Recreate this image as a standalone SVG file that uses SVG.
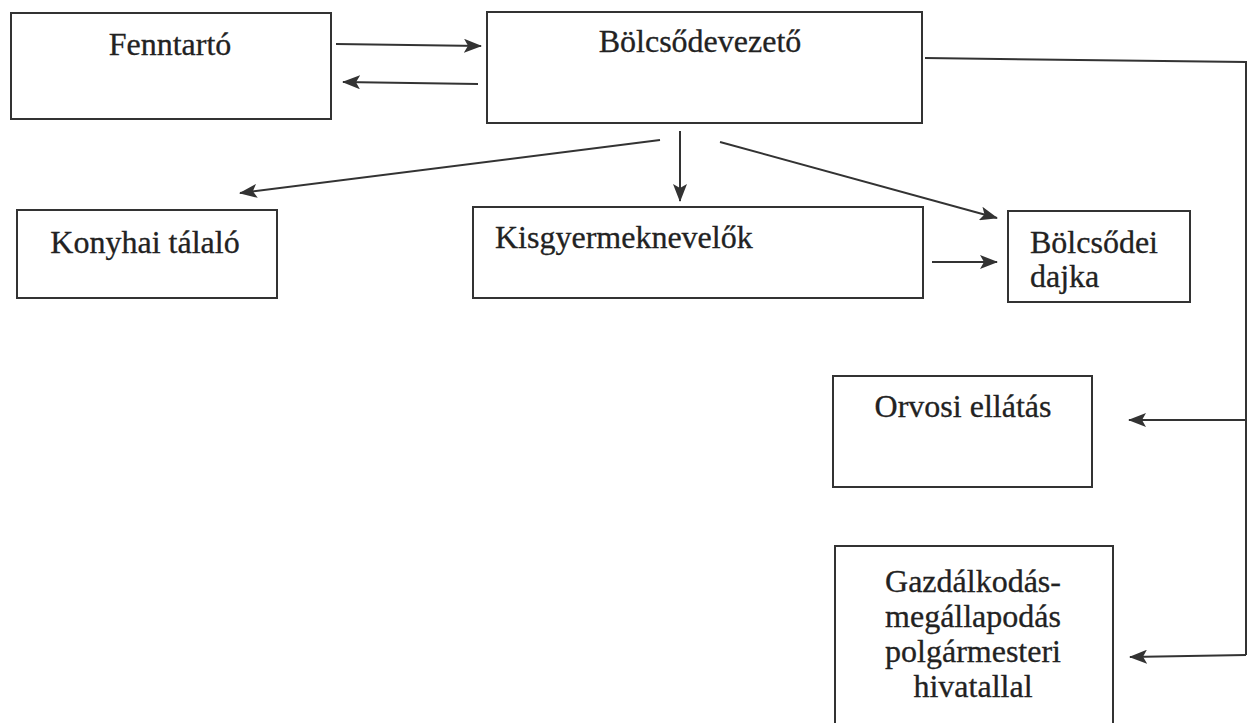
<svg xmlns="http://www.w3.org/2000/svg" width="1248" height="723" viewBox="0 0 1248 723">
<style>
.box{fill:#fff;stroke:#333;stroke-width:2}
.t{font-family:"Liberation Serif","Times New Roman",serif;font-size:32px;fill:#222;stroke:#222;stroke-width:0.3}
.c{text-anchor:middle}
.ln{fill:none;stroke:#333;stroke-width:2}
</style>
<defs>
<marker id="ah" viewBox="0 0 18 14" refX="17" refY="7" markerWidth="18" markerHeight="14" markerUnits="userSpaceOnUse" orient="auto">
<path d="M0,0 L18,7 L0,14 L4,7 Z" fill="#333"/>
</marker>
</defs>
<rect width="1248" height="723" fill="#fff"/>
<g id="fenntarto"><rect class="box" x="11" y="13" width="320" height="106"/><text class="t c" x="170" y="55">Fenntartó</text></g>
<g id="bolcsodevezeto"><rect class="box" x="487" y="12" width="435" height="111"/><text class="t c" x="700" y="52">Bölcsődevezető</text></g>
<g id="konyhai"><rect class="box" x="17" y="210" width="260" height="88"/><text class="t c" x="145" y="253">Konyhai tálaló</text></g>
<g id="kisgyermeknevelok"><rect class="box" x="473" y="207" width="450" height="91"/><text class="t" x="495" y="248">Kisgyermeknevelők</text></g>
<g id="dajka"><rect class="box" x="1008" y="211" width="182" height="91"/><text class="t" x="1030" y="253">Bölcsődei</text><text class="t" x="1030" y="287">dajka</text></g>
<g id="orvosi"><rect class="box" x="833" y="376" width="259" height="111"/><text class="t c" x="963" y="417">Orvosi ellátás</text></g>
<g id="gazdalkodas"><rect class="box" x="835" y="546" width="278" height="190"/>
<text class="t c" x="973" y="592">Gazdálkodás-</text><text class="t c" x="973" y="627">megállapodás</text><text class="t c" x="973" y="662">polgármesteri</text><text class="t c" x="973" y="697">hivatallal</text></g>
<g id="connectors">
<line class="ln" x1="336" y1="44" x2="481" y2="46" marker-end="url(#ah)"/>
<line class="ln" x1="478" y1="84" x2="343" y2="82" marker-end="url(#ah)"/>
<line class="ln" x1="680" y1="131" x2="680" y2="201" marker-end="url(#ah)"/>
<line class="ln" x1="660" y1="140" x2="240" y2="193" marker-end="url(#ah)"/>
<line class="ln" x1="720" y1="142" x2="997" y2="218" marker-end="url(#ah)"/>
<line class="ln" x1="932" y1="262" x2="997" y2="262" marker-end="url(#ah)"/>
<polyline class="ln" points="925,58 1246,62 1246,655"/>
<line class="ln" x1="1246" y1="420" x2="1129" y2="420" marker-end="url(#ah)"/>
<line class="ln" x1="1246" y1="655" x2="1130" y2="657" marker-end="url(#ah)"/>
</g>
</svg>
